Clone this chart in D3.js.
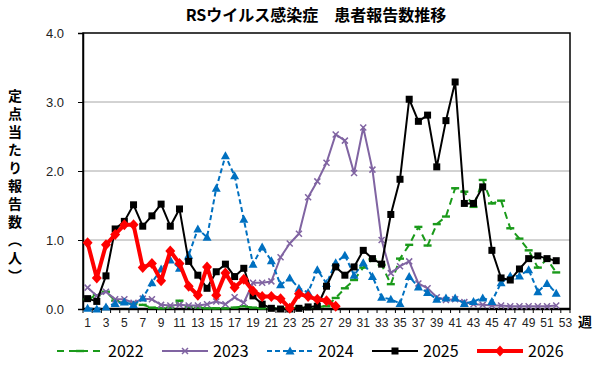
<!DOCTYPE html>
<html>
<head>
<meta charset="utf-8">
<script src="https://cdn.jsdelivr.net/npm/d3@7"></script>
<style>
  body { margin: 0; background: #fff; }
  svg { font-family: "Noto Sans CJK JP", "Noto Sans", sans-serif; }
</style>
</head>
<body>
<div id="chart"></div>
<script>
// weeks 1..53 on the category axis
const weeks = d3.range(1, 54);
const weekLabels = weeks.filter(w => w % 2 === 1);
const yTicks = [0, 1, 2, 3, 4];

// reported cases per sentinel site, by week
const y2022 = [0.14, 0.20, 0.25, 0.12, 0.08, 0.08, 0.06, 0.02, 0.01, 0.02,
    0.12, 0.03, 0.02, 0.01, 0.01, 0.01, 0.02, 0.04, 0.02, 0.01,
    0.01, 0.01, 0.01, 0.02, 0.02, 0.03, 0.04, 0.16, 0.30, 0.42,
    0.60, 0.72, 0.64, 0.36, 0.73, 0.93, 1.19, 0.92, 1.23, 1.34,
    1.75, 1.70, 1.48, 1.87, 1.53, 1.57, 1.17, 1.02, 0.85, 0.60, 0.72, 0.53];
const y2023 = [0.31, 0.19, 0.25, 0.14, 0.14, 0.09, 0.15, 0.14, 0.06, 0.05,
    0.06, 0.05, 0.05, 0.07, 0.11, 0.07, 0.17, 0.09, 0.38, 0.38,
    0.40, 0.75, 0.95, 1.09, 1.62, 1.85, 2.12, 2.53, 2.44, 1.97,
    2.63, 2.02, 1.00, 0.52, 0.62, 0.69, 0.37, 0.30, 0.17, 0.13,
    0.14, 0.10, 0.07, 0.06, 0.05, 0.05, 0.04, 0.04, 0.04, 0.04, 0.04, 0.05];
const y2024 = [0.01, 0.00, 0.03, 0.08, 0.10, 0.06, 0.16, 0.38, 0.58, 0.71,
    0.59, 0.78, 1.16, 1.04, 1.75, 2.22, 1.93, 1.30, 0.65, 0.90,
    0.70, 0.35, 0.45, 0.30, 0.24, 0.57, 0.37, 0.67, 0.78, 0.49,
    0.67, 0.47, 0.17, 0.14, 0.08, 0.47, 0.32, 0.24, 0.14, 0.16,
    0.16, 0.08, 0.11, 0.16, 0.11, 0.38, 0.48, 0.48, 0.57, 0.25, 0.37, 0.23];
const y2025 = [0.15, 0.11, 0.48, 1.16, 1.27, 1.51, 1.20, 1.35, 1.52, 1.20,
    1.45, 0.69, 0.49, 0.30, 0.54, 0.65, 0.47, 0.59, 0.19, 0.07,
    0.01, 0.00, 0.00, 0.01, 0.03, 0.04, 0.33, 0.61, 0.49, 0.61,
    0.85, 0.73, 0.65, 1.37, 1.88, 3.04, 2.72, 2.81, 2.06, 2.73,
    3.29, 1.53, 1.53, 1.77, 0.85, 0.45, 0.42, 0.58, 0.73, 0.77, 0.73, 0.70];
const y2026 = [0.96, 0.45, 0.93, 1.08, 1.22, 1.22, 0.60, 0.66, 0.41, 0.84,
    0.66, 0.33, 0.20, 0.61, 0.20, 0.52, 0.31, 0.43, 0.26, 0.18,
    0.18, 0.15, 0.01, 0.22, 0.18, 0.14, 0.12, 0.04];

const series = [
    {name: "2022", values: y2022, color: "#1a9a1a", width: 2, dash: "7,5", marker: "dash"},
    {name: "2023", values: y2023, color: "#8064a2", width: 2, dash: null, marker: "x"},
    {name: "2024", values: y2024, color: "#0070c0", width: 2, dash: "5,3", marker: "triangle"},
    {name: "2025", values: y2025, color: "#000000", width: 2, dash: null, marker: "square"},
    {name: "2026", values: y2026, color: "#ff0000", width: 4, dash: null, marker: "diamond"}
];

const W = 600, H = 368;
const margin = {top: 33, right: 30, bottom: 59, left: 83};

const svg = d3.select("#chart").append("svg")
    .attr("width", W)
    .attr("height", H);

const x = d3.scaleBand()
    .domain(weeks)
    .range([margin.left, W - margin.right]);

const y = d3.scaleLinear()
    .domain([0, 4])
    .range([H - margin.bottom, margin.top]);

const cx = w => x(w) + x.bandwidth() / 2;

// title
svg.append("text")
    .attr("x", 316)
    .attr("y", 21)
    .attr("text-anchor", "middle")
    .attr("font-size", 16)
    .attr("font-weight", "bold")
    .text("RSウイルス感染症　患者報告数推移");

// gridlines
svg.append("g")
    .selectAll("line")
    .data([1, 2, 3])
    .join("line")
    .attr("x1", margin.left)
    .attr("x2", W - margin.right)
    .attr("y1", d => y(d))
    .attr("y2", d => y(d))
    .attr("stroke", "#a6a6a6")
    .attr("stroke-width", 1);

// frame
svg.append("rect")
    .attr("x", margin.left)
    .attr("y", y(4))
    .attr("width", W - margin.right - margin.left)
    .attr("height", y(0) - y(4))
    .attr("fill", "none")
    .attr("stroke", "#000")
    .attr("stroke-width", 1.5);

// y axis
const yAxis = svg.append("g")
    .attr("transform", `translate(${margin.left},0)`)
    .call(d3.axisLeft(y).tickValues(yTicks).tickFormat(d3.format(".1f")).tickSize(5).tickPadding(14));
yAxis.select(".domain").attr("stroke-width", 1.5);
yAxis.selectAll("text").attr("font-size", 13).attr("fill", "#222");

// x axis labels
const xAxis = svg.append("g")
    .attr("transform", `translate(0,${y(0)})`)
    .call(d3.axisBottom(x).tickValues(weekLabels).tickSize(0).tickPadding(9));
xAxis.select(".domain").remove();
xAxis.selectAll("text").attr("font-size", 12).attr("fill", "#222");

// ticks between categories
svg.append("g")
    .selectAll("line")
    .data(weeks.concat([54]))
    .join("line")
    .attr("x1", d => d === 54 ? W - margin.right : x(d))
    .attr("x2", d => d === 54 ? W - margin.right : x(d))
    .attr("y1", y(0))
    .attr("y2", y(0) + 4)
    .attr("stroke", "#000");

svg.append("line")
    .attr("x1", margin.left)
    .attr("x2", W - margin.right)
    .attr("y1", y(0))
    .attr("y2", y(0))
    .attr("stroke", "#000")
    .attr("stroke-width", 2.5);

svg.append("text")
    .attr("x", 585)
    .attr("y", 327)
    .attr("text-anchor", "middle")
    .attr("font-size", 14)
    .attr("font-weight", "bold")
    .text("週");

// y axis title, vertical
svg.append("text")
    .attr("x", 15)
    .attr("y", 89)
    .style("writing-mode", "vertical-rl")
    .attr("font-size", 14)
    .attr("font-weight", "bold")
    .attr("letter-spacing", 4)
    .text("定点当たり報告数（人）");

// marker shapes
function drawMarker(g, type, color) {
    if (type === "square") {
        g.append("rect").attr("x", -3.5).attr("y", -3.5).attr("width", 7).attr("height", 7).attr("fill", color);
    } else if (type === "diamond") {
        g.append("path").attr("d", "M0,-5.5L5,0L0,5.5L-5,0Z").attr("fill", color);
    } else if (type === "triangle") {
        g.append("path").attr("d", "M0,-4.5L4.5,3.5L-4.5,3.5Z").attr("fill", color);
    } else if (type === "x") {
        g.append("path").attr("d", "M-3,-3L3,3M-3,3L3,-3").attr("stroke", color).attr("stroke-width", 1.5).attr("fill", "none");
    } else if (type === "dash") {
        g.append("rect").attr("x", -4).attr("y", -1.2).attr("width", 8).attr("height", 2.4).attr("fill", color);
    }
}

const line = d3.line()
    .defined(d => d != null)
    .x((d, i) => cx(weeks[i]))
    .y(d => y(d));

series.forEach(s => {
    let g = svg.append("g");
    g.append("path")
        .datum(s.values)
        .attr("fill", "none")
        .attr("stroke", s.color)
        .attr("stroke-width", s.width)
        .attr("stroke-dasharray", s.dash)
        .attr("stroke-linejoin", "round")
        .attr("d", line);
    s.values.forEach((v, i) => {
        let m = g.append("g").attr("transform", `translate(${cx(weeks[i])},${y(v)})`);
        drawMarker(m, s.marker, s.color);
    });
});

// legend
const legend = svg.append("g").attr("transform", "translate(57,351)");
series.forEach((s, i) => {
    let lg = legend.append("g").attr("transform", `translate(${i * 105},0)`);
    lg.append("line")
        .attr("x1", 0).attr("x2", 46)
        .attr("stroke", s.color)
        .attr("stroke-width", s.width)
        .attr("stroke-dasharray", s.dash);
    drawMarker(lg.append("g").attr("transform", "translate(23,0)"), s.marker, s.color);
    lg.append("text")
        .attr("x", 51)
        .attr("y", 6)
        .attr("font-size", 16)
        .text(s.name);
});
</script>
</body>
</html>
